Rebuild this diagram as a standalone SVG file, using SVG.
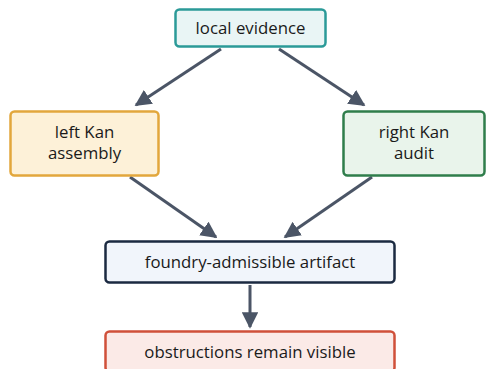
<svg xmlns="http://www.w3.org/2000/svg" width="487" height="369" viewBox="0 0 487 369">
<defs>
<marker id="ah" viewBox="0 0 10 10" refX="9" refY="5" markerWidth="5.5" markerHeight="5.5" orient="auto" markerUnits="strokeWidth">
<path d="M0,0 L10,5 L0,10 z" fill="#4b5566"/>
</marker>
<style>
.box{stroke-width:2.5}
.t{font-family:"Open Sans","DejaVu Sans",sans-serif;font-size:16.8px;fill:#1a1a1a;text-anchor:middle}
.c{stroke:#4b5566;stroke-width:3;fill:none;marker-end:url(#ah)}
</style>
</defs>
<rect width="487" height="369" fill="#ffffff"/>
<g id="connectors">
<line class="c" x1="221" y1="49" x2="136" y2="105"/>
<line class="c" x1="279" y1="49" x2="364" y2="105"/>
<line class="c" x1="130" y1="177" x2="216" y2="237"/>
<line class="c" x1="372" y1="177" x2="285" y2="237"/>
<line class="c" x1="250" y1="285" x2="250" y2="327"/>
</g>
<g id="local">
<rect class="box" x="175.5" y="9.5" width="150" height="37" rx="4" fill="#e9f5f5" stroke="#2b9a98"/>
<text class="t" x="250.5" y="33.5">local evidence</text>
</g>
<g id="left">
<rect class="box" x="10.5" y="111.5" width="148" height="64" rx="4" fill="#fdf1d8" stroke="#e2a73c"/>
<text class="t" x="84.5" y="138">left Kan</text>
<text class="t" x="84.5" y="159">assembly</text>
</g>
<g id="right">
<rect class="box" x="343.5" y="111.5" width="141" height="64" rx="4" fill="#e9f4eb" stroke="#2f7d4b"/>
<text class="t" x="414" y="138">right Kan</text>
<text class="t" x="414" y="159">audit</text>
</g>
<g id="artifact">
<rect class="box" x="105.5" y="241.5" width="289" height="41" rx="4" fill="#f1f5fb" stroke="#1b2a41"/>
<text class="t" x="250" y="268">foundry-admissible artifact</text>
</g>
<g id="obstructions">
<rect class="box" x="105.5" y="331.5" width="289" height="40" rx="4" fill="#fbeae7" stroke="#d0503a"/>
<text class="t" x="250" y="358">obstructions remain visible</text>
</g>
</svg>
